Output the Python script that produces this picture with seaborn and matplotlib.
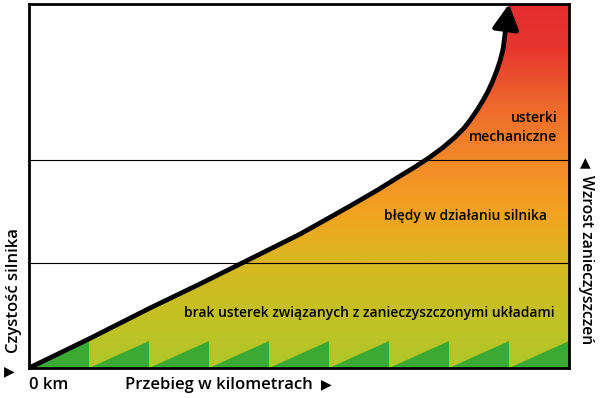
import numpy as np
import matplotlib.pyplot as plt
import seaborn as sns
import pandas as pd
from matplotlib.colors import LinearSegmentedColormap

# mileage (tooth units) vs contamination (0-100)
mileage = [0, 1.0, 2.02, 2.85, 3.68, 4.52, 5.35, 5.8, 6.18, 6.45, 6.68, 6.9, 7.1, 7.25, 7.35,
           7.47, 7.57, 7.65, 7.72, 7.79, 7.85, 7.9]
contamination = [0, 8.0, 16.5, 23.1, 29.9, 36.8, 44.5, 48.8, 52.7, 55.4, 57.9, 60.6, 63.4, 65.9, 68.0,
                 70.9, 73.6, 76.0, 78.5, 81.4, 84.3, 87.5]
arrow_tip = (8.0, 100)
zone_bounds = [28.8, 57.1]
tooth_starts = [0, 1, 2, 3, 4, 5, 6, 7, 8]
tooth_height = 7.4

grad_pos = [0, 0.29, 0.44, 0.57, 0.72, 0.88, 1.0]
grad_cols = ['#b0c828', '#d8b820', '#f4a020', '#f28a28', '#ee6a2c', '#e8352f', '#e52d2e']

sns.set_theme(style='white')
plt.rcParams['font.family'] = ['Open Sans', 'DejaVu Sans']
plt.rcParams['text.color'] = 'black'

fig = plt.figure(figsize=(6, 3.98), dpi=100)
ax = fig.add_axes([29 / 600, 30 / 398, 540 / 600, 364 / 398])
ax.set_xlim(0, 9)
ax.set_ylim(0, 100)

# gradient area right of / below the curve
cmap = LinearSegmentedColormap.from_list('g', list(zip(grad_pos, grad_cols)))
px = mileage + [arrow_tip[0], 9, 9]
py = contamination + [arrow_tip[1], 100, 0]
patch = ax.fill(px, py, color='none', lw=0)[0]
grad = np.linspace(0, 1, 256).reshape(-1, 1)
im = ax.imshow(grad, cmap=cmap, origin='lower', extent=[0, 9, 0, 100], aspect='auto', zorder=1)
im.set_clip_path(patch)

# green sawtooth
for k in tooth_starts:
    ax.fill([k, k + 1, k + 1], [0, tooth_height, 0], color='#3aaa35', lw=0, zorder=2)

for yb in zone_bounds:
    ax.axhline(yb, color='black', lw=0.8, zorder=3)

df = pd.DataFrame({'km': mileage, 'c': contamination})
sns.lineplot(data=df, x='km', y='c', color='black', lw=3.4, sort=False, ax=ax, zorder=4)
ax.lines[-1].set_solid_joinstyle('round')
ax.annotate('', xy=arrow_tip, xytext=(mileage[-1], contamination[-1]),
            arrowprops=dict(arrowstyle='-|>,head_length=0.75,head_width=0.4', color='black',
                            lw=3.4, shrinkA=0, shrinkB=0, mutation_scale=20), zorder=5)

fs = 10
fw = 'semibold'
ax.text(8.8, 66, 'usterki\nmechaniczne', ha='right', va='center', fontsize=fs, weight=fw,
        linespacing=1.45, zorder=6)
ax.text(7.27, 41.8, 'błędy w działaniu silnika', ha='center', va='center', fontsize=fs, weight=fw,
        zorder=6)
ax.text(5.67, 15.1, 'brak usterek związanych z zanieczyszczonymi układami', ha='center',
        va='center', fontsize=fs, weight=fw, zorder=6)

ax.set_xlabel('')
ax.set_ylabel('')
ax.set_xticks([])
ax.set_yticks([])
for s in ax.spines.values():
    s.set_color('black')
    s.set_linewidth(2)
    s.set_zorder(7)

fs2 = 12
tri = dict(ha='center', va='center', fontsize=10, family='DejaVu Sans')
fig.text(29 / 600, 13 / 398, '0 km', ha='left', va='center', fontsize=fs2, weight=fw)
fig.text(125 / 600, 13 / 398, 'Przebieg w kilometrach', ha='left', va='center', fontsize=fs2,
         weight=fw)
fig.text(326 / 600, 14 / 398, '▶', **tri)
fig.text(14 / 600, 107 / 398, 'Czystość silnika', rotation=90, ha='center', va='center',
         fontsize=fs2, weight=fw)
fig.text(9 / 600, 27 / 398, '▶', **tri)
fig.text(585 / 600, 236 / 398, '▲', **tri)
fig.text(586 / 600, 138 / 398, 'Wzrost zanieczyszczeń', rotation=-90, ha='center', va='center',
         fontsize=11.3, weight=fw)

fig.savefig('out.png', dpi=100)
